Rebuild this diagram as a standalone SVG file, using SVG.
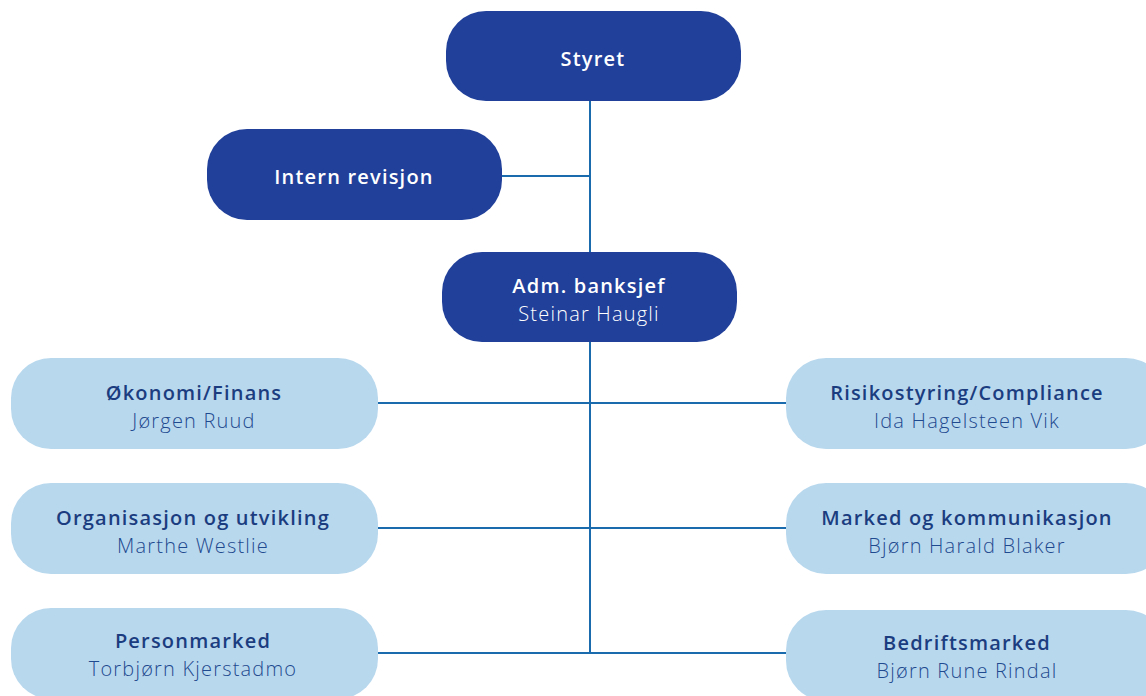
<svg xmlns="http://www.w3.org/2000/svg" width="1146" height="696" viewBox="0 0 1146 696">
<style>
.dark{fill:#21409a}
.light{fill:#b8d8ee}
.t{font-family:"Open Sans","Liberation Sans",sans-serif;font-size:20px;letter-spacing:1.2px;text-anchor:middle}
.wb{fill:#ffffff;font-weight:600}
.wn{fill:#ffffff;font-weight:300}
.db{fill:#1b3d80;font-weight:600}
.dn{fill:#1f4a8f;font-weight:300}
.c{stroke:#1a6aae;stroke-width:2;fill:none}
</style>
<rect width="1146" height="696" fill="#ffffff"/>
<g id="connectors">
<line class="c" x1="590" y1="100" x2="590" y2="653"/>
<line class="c" x1="501" y1="176" x2="590" y2="176"/>
<line class="c" x1="377" y1="403" x2="787" y2="403"/>
<line class="c" x1="377" y1="528" x2="787" y2="528"/>
<line class="c" x1="377" y1="653" x2="787" y2="653"/>
</g>
<g id="styret">
<rect class="dark" x="446" y="11" width="295" height="90" rx="40"/>
<text class="t wb" x="593" y="66">Styret</text>
</g>
<g id="intern-revisjon">
<rect class="dark" x="207" y="129" width="295" height="91" rx="40"/>
<text class="t wb" x="354" y="184">Intern revisjon</text>
</g>
<g id="adm-banksjef">
<rect class="dark" x="442" y="252" width="295" height="90" rx="40"/>
<text class="t wb" x="589" y="293">Adm. banksjef</text>
<text class="t wn" x="589" y="321">Steinar Haugli</text>
</g>
<g id="okonomi">
<rect class="light" x="11" y="358" width="367" height="91" rx="40"/>
<text class="t db" x="194" y="400">Økonomi/Finans</text>
<text class="t dn" x="194" y="428">Jørgen Ruud</text>
</g>
<g id="risiko">
<rect class="light" x="786" y="358" width="380" height="91" rx="40"/>
<text class="t db" x="967" y="400">Risikostyring/Compliance</text>
<text class="t dn" x="967" y="428">Ida Hagelsteen Vik</text>
</g>
<g id="organisasjon">
<rect class="light" x="11" y="483" width="367" height="91" rx="40"/>
<text class="t db" x="193" y="525">Organisasjon og utvikling</text>
<text class="t dn" x="193" y="553">Marthe Westlie</text>
</g>
<g id="marked">
<rect class="light" x="786" y="483" width="380" height="91" rx="40"/>
<text class="t db" x="967" y="525">Marked og kommunikasjon</text>
<text class="t dn" x="967" y="553">Bjørn Harald Blaker</text>
</g>
<g id="personmarked">
<rect class="light" x="11" y="608" width="367" height="91" rx="40"/>
<text class="t db" x="193" y="648">Personmarked</text>
<text class="t dn" x="193" y="676">Torbjørn Kjerstadmo</text>
</g>
<g id="bedriftsmarked">
<rect class="light" x="786" y="610" width="380" height="91" rx="40"/>
<text class="t db" x="967" y="650">Bedriftsmarked</text>
<text class="t dn" x="967" y="678">Bjørn Rune Rindal</text>
</g>
</svg>
